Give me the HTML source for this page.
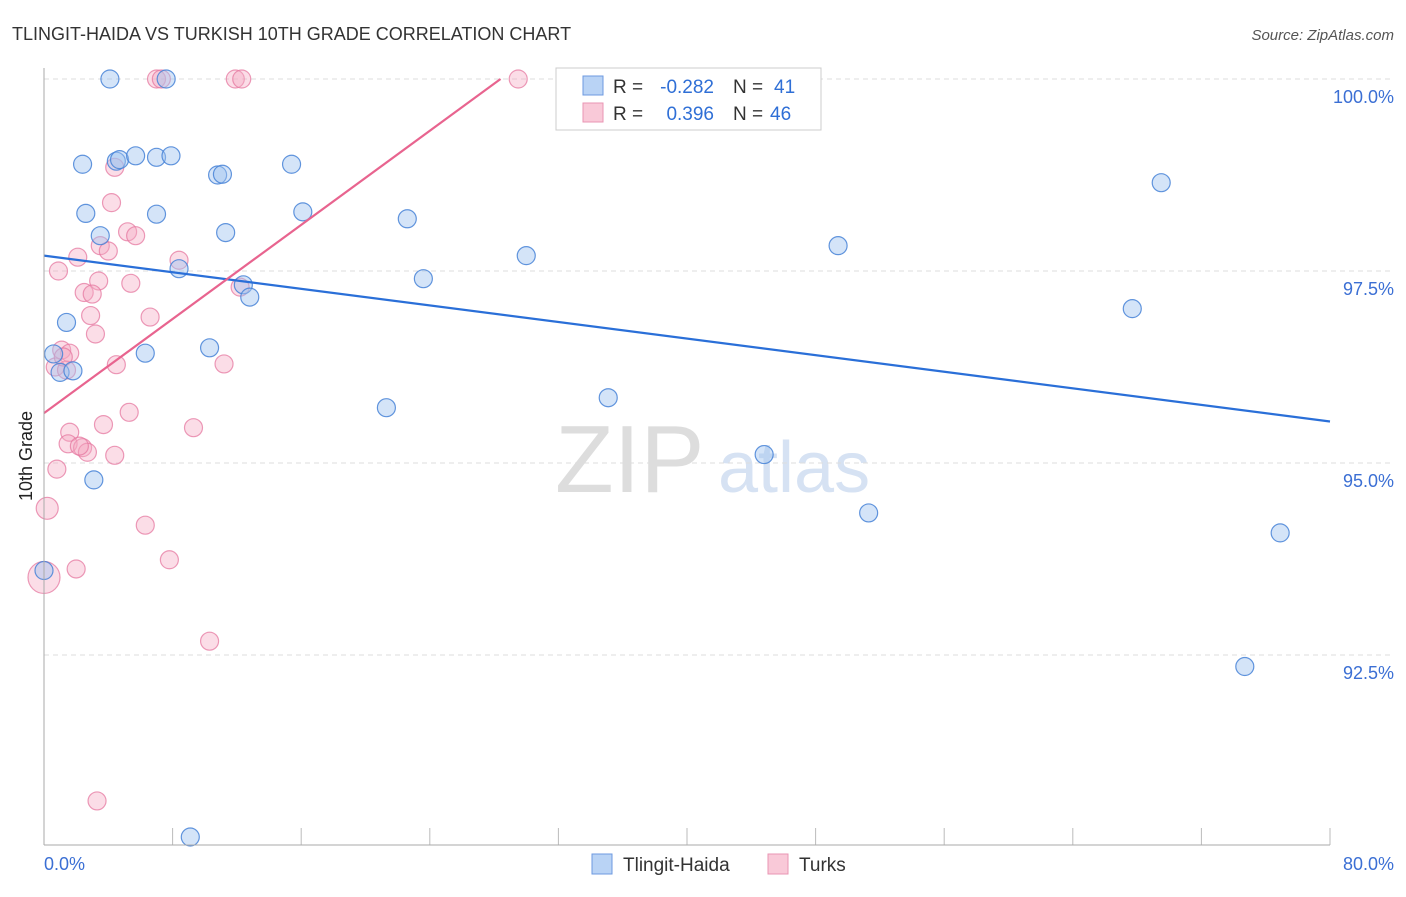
<!DOCTYPE html>
<html><head><meta charset="utf-8"><style>
body{margin:0;background:#fff;font-family:"Liberation Sans",sans-serif;}
svg text{font-family:"Liberation Sans",sans-serif;}
</style></head><body>
<svg id="c" width="1406" height="892">
<text x="12" y="40" font-size="18" fill="#333">TLINGIT-HAIDA VS TURKISH 10TH GRADE CORRELATION CHART</text>
<text x="1394" y="40" font-size="15" fill="#555" font-style="italic" text-anchor="end">Source: ZipAtlas.com</text>
<text x="32" y="456" font-size="18" fill="#222" transform="rotate(-90 32 456)" text-anchor="middle">10th Grade</text>
<text x="555" y="492" font-size="96" fill="#ddd" font-family="Liberation Serif">ZIP</text>
<text x="718" y="492" font-size="72" fill="#d6e2f3">atlas</text>
<g id="grid"></g><g id="marks"></g>
<line x1="44" y1="68" x2="44" y2="845" stroke="#aaa"/>
<line x1="44" y1="845" x2="1330" y2="845" stroke="#aaa"/>
<text x="44" y="870" font-size="18" fill="#3b6fd4">0.0%</text>
<text x="1394" y="870" font-size="18" fill="#3b6fd4" text-anchor="end">80.0%</text>
<g>
<rect x="556" y="68" width="265" height="62" fill="#fff" stroke="#ccc"/>
<rect x="583" y="76" width="20" height="19" fill="#b9d3f5" stroke="#6d9ae0"/>
<rect x="583" y="103" width="20" height="19" fill="#f9c9d8" stroke="#e995b3"/>
<text x="613" y="93" font-size="19" fill="#333">R =</text>
<text x="714" y="93" font-size="19" fill="#2f6fd6" text-anchor="end">-0.282</text>
<text x="733" y="93" font-size="19" fill="#333">N =</text>
<text x="774" y="93" font-size="19" fill="#2f6fd6">41</text>
<text x="613" y="120" font-size="19" fill="#333">R =</text>
<text x="714" y="120" font-size="19" fill="#2f6fd6" text-anchor="end">0.396</text>
<text x="733" y="120" font-size="19" fill="#333">N =</text>
<text x="770" y="120" font-size="19" fill="#2f6fd6">46</text>
</g>
<g>
<rect x="592" y="854" width="20" height="20" fill="#b9d3f5" stroke="#6d9ae0"/>
<text x="623" y="871" font-size="19" fill="#333">Tlingit-Haida</text>
<rect x="768" y="854" width="20" height="20" fill="#f9c9d8" stroke="#e995b3"/>
<text x="799" y="871" font-size="19" fill="#333">Turks</text>
</g>
</svg>
<script>
const yTicks=[100,97.5,95,92.5];
const yTickLabels=["100.0%","97.5%","95.0%","92.5%"];
const xTicks=[8,16,24,32,40,48,56,64,72,80];
const blueX=[4.1,7.6,36.6,2.4,4.5,4.7,5.7,7.0,7.9,10.8,11.1,15.4,2.6,7.0,16.1,22.6,3.5,11.3,30.0,49.4,69.5,8.4,12.4,12.8,23.6,67.7,1.4,0.6,1.0,1.8,6.3,10.3,21.3,35.1,44.8,3.1,51.3,76.9,0.0,74.7,9.1];
const blueY=[100,100,100,98.89,98.93,98.95,99.0,98.98,99.0,98.75,98.76,98.89,98.25,98.24,98.27,98.18,97.96,98.0,97.7,97.83,98.65,97.53,97.32,97.16,97.4,97.01,96.83,96.42,96.18,96.2,96.43,96.5,95.72,95.85,95.11,94.78,94.35,94.09,93.6,92.35,90.13];
const pinkX=[7.0,7.3,11.9,12.3,29.5,4.4,4.2,5.2,5.7,3.5,4.0,2.1,0.9,8.4,5.4,3.4,2.5,3.0,12.2,2.9,6.6,3.2,1.1,1.6,0.7,1.4,4.5,11.2,5.3,3.7,9.3,1.6,1.5,2.4,2.7,4.4,0.8,0.2,6.3,7.8,2.0,0.0,10.3,3.3,1.2,2.2];
const pinkY=[100,100,100,100,100,98.85,98.39,98.01,97.96,97.83,97.76,97.68,97.5,97.64,97.34,97.37,97.22,97.2,97.29,96.92,96.9,96.68,96.47,96.43,96.25,96.21,96.28,96.29,95.66,95.5,95.46,95.4,95.25,95.2,95.14,95.1,94.92,94.41,94.19,93.74,93.62,93.51,92.68,90.6,96.38,95.22];
const pinkR=[9,9,9,9,9,9,9,9,9,9,9,9,9,9,9,9,9,9,9,9,9,9,9,9,9,9,9,9,9,9,9,9,9,9,9,9,9,11,9,9,9,16,9,9,9,9];
const blueLine=[[0,97.7],[80,95.54]];
const pinkLine=[[0,95.65],[28.4,100]];
const X=v=>44+v/80*1286, Y=v=>79+(100-v)*76.8;
const ns="http://www.w3.org/2000/svg";
const grid=document.getElementById('grid'), marks=document.getElementById('marks');
yTicks.forEach((t,i)=>{
 const l=document.createElementNS(ns,'line');
 
 
 l.setAttribute('x1',44);l.setAttribute('x2',1394);l.setAttribute('y1',Y(t));l.setAttribute('y2',Y(t));
 l.setAttribute('stroke','#ddd');l.setAttribute('stroke-dasharray','5,4');grid.appendChild(l);
 const tx=document.createElementNS(ns,'text');
 
 
 tx.setAttribute('x',1394);tx.setAttribute('y',Y(t)+24);tx.setAttribute('text-anchor','end');
 tx.setAttribute('font-size','18');tx.setAttribute('fill','#3b6fd4');tx.textContent=yTickLabels[i];grid.appendChild(tx);
});
xTicks.forEach(t=>{
 const l=document.createElementNS(ns,'line');
 
 
 l.setAttribute('x1',X(t));l.setAttribute('x2',X(t));l.setAttribute('y1',828);l.setAttribute('y2',845);
 l.setAttribute('stroke','#bbb');grid.appendChild(l);
});
function dots(xs,ys,rs,fill,stroke,name){
 xs.forEach((x,i)=>{
  const c=document.createElementNS(ns,'circle');
  
  
  c.setAttribute('cx',X(x));c.setAttribute('cy',Y(ys[i]));c.setAttribute('r',rs?rs[i]:9);
  c.setAttribute('fill',fill);c.setAttribute('stroke',stroke);c.setAttribute('stroke-width','1.2');
  marks.appendChild(c);
 });
}
dots(pinkX,pinkY,pinkR,'rgba(246,170,195,0.4)','rgba(230,120,160,0.75)','turks-point');
dots(blueX,blueY,null,'rgba(160,195,240,0.45)','rgba(70,130,215,0.85)','tlingit-point');
function line(p,color,name){
 const l=document.createElementNS(ns,'line');
 
 
 l.setAttribute('x1',X(p[0][0]));l.setAttribute('y1',Y(p[0][1]));l.setAttribute('x2',X(p[1][0]));l.setAttribute('y2',Y(p[1][1]));
 l.setAttribute('stroke',color);l.setAttribute('stroke-width','2.2');marks.appendChild(l);
}
line(blueLine,'#2a6fd8','tlingit-trendline');
line(pinkLine,'#e8648f','turks-trendline');
</script>
</body></html>
